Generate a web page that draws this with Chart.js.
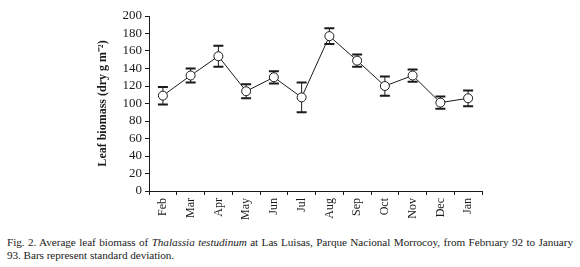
<!DOCTYPE html>
<html>
<head>
<meta charset="utf-8">
<script src="https://cdn.jsdelivr.net/npm/chart.js@4"></script>
<style>
    html, body { margin: 0; padding: 0; background: #fff; }
    #wrap { position: relative; width: 580px; height: 267px; overflow: hidden; }
    #chart { position: absolute; left: 0; top: 0; }
    #caption {
        position: absolute; left: 7px; top: 236px; width: 566px;
        font-family: 'Liberation Serif', serif; font-size: 11.2px; line-height: 13px;
        letter-spacing: -0.05px;
        color: #222; text-align: justify; text-align-last: left;
    }
</style>
</head>
<body>
<div id="wrap">
    <canvas id="chart" width="580" height="232"></canvas>
    <div id="caption">Fig. 2. Average leaf biomass of <i>Thalassia testudinum</i> at Las Luisas, Parque Nacional Morrocoy, from February 92 to January 93. Bars represent standard deviation.</div>
</div>
<script>
    const months = ['Feb', 'Mar', 'Apr', 'May', 'Jun', 'Jul', 'Aug', 'Sep', 'Oct', 'Nov', 'Dec', 'Jan'];
    const biomass = [109, 132, 154, 114, 130, 107, 177, 149, 120, 132, 101, 106];
    const stdDev = [10, 8, 12, 8, 7, 17, 9, 7, 11, 7, 7, 9];

    const ink = '#1a1a1a';

    Chart.defaults.font.family = "'Liberation Serif', serif";
    Chart.defaults.color = ink;

    // error bars drawn under the points, through the y scale
    const errorBars = {
        id: 'errorBars',
        beforeDatasetsDraw(chart) {
            const ctx = chart.ctx;
            const x = chart.scales.x;
            const y = chart.scales.y;
            ctx.save();
            ctx.strokeStyle = ink;
            biomass.forEach((v, i) => {
                const px = x.getPixelForValue(i);
                const top = y.getPixelForValue(v + stdDev[i]);
                const bot = y.getPixelForValue(v - stdDev[i]);
                ctx.lineWidth = 1;
                ctx.beginPath();
                ctx.moveTo(px, top);
                ctx.lineTo(px, bot);
                ctx.stroke();
                ctx.lineWidth = 2;
                ctx.beginPath();
                ctx.moveTo(px - 5, top);
                ctx.lineTo(px + 5, top);
                ctx.moveTo(px - 5, bot);
                ctx.lineTo(px + 5, bot);
                ctx.stroke();
            });
            ctx.restore();
        }
    };

    new Chart(document.getElementById('chart'), {
        type: 'line',
        data: {
            labels: months,
            datasets: [{
                data: biomass,
                borderColor: ink,
                borderWidth: 1,
                pointRadius: 4.5,
                pointBackgroundColor: '#fff',
                pointBorderColor: ink,
                pointBorderWidth: 1,
                tension: 0
            }]
        },
        options: {
            responsive: false,
            animation: false,
            layout: { padding: { left: 92, right: 98, top: 16, bottom: 0 } },
            plugins: { legend: { display: false }, tooltip: { enabled: false } },
            scales: {
                x: {
                    offset: true,
                    grid: { offset: true, drawOnChartArea: false, tickLength: 4, color: ink },
                    border: { color: ink },
                    ticks: { minRotation: 90, maxRotation: 90, autoSkip: false, padding: 3, font: { size: 12 } },
                    afterFit(scale) { scale.height = 41; }
                },
                y: {
                    min: 0,
                    max: 200,
                    ticks: { stepSize: 20, autoSkip: false, padding: 3, font: { size: 13 } },
                    grid: { drawOnChartArea: false, tickLength: 4, color: ink },
                    border: { color: ink },
                    title: {
                        display: true,
                        text: 'Leaf biomass (dry g m\u207B\u00B2)',
                        font: { size: 12, weight: 'bold' },
                        padding: { top: 4, bottom: 0 }
                    },
                    afterFit(scale) { scale.width = 57; }
                }
            }
        },
        plugins: [errorBars]
    });
</script>
</body>
</html>
